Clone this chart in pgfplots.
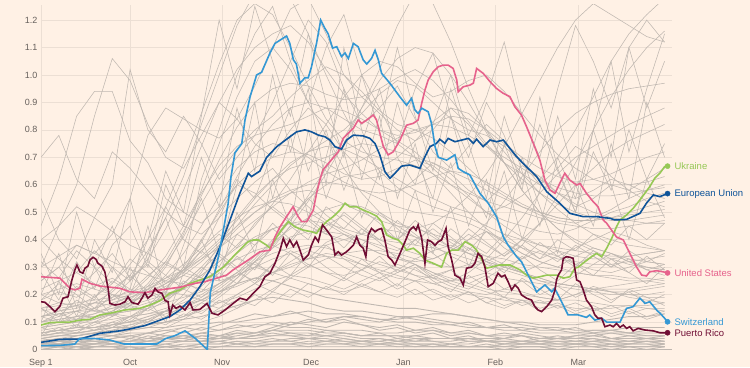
\documentclass[border=0pt]{standalone}
\usepackage{fontspec}
\setmainfont{Liberation Sans}
\usepackage{pgfplots}
\usepackage{pgfplotstable}
\pgfplotsset{compat=1.18}
\definecolor{bg}{RGB}{255,241,229}
\definecolor{gridc}{RGB}{236,223,212}
\definecolor{basec}{RGB}{190,182,175}
\definecolor{greyl}{RGB}{192,184,177}
\definecolor{tickc}{RGB}{102,96,92}
\definecolor{swiss}{RGB}{52,152,212}
\definecolor{eu}{RGB}{15,84,153}
\definecolor{usa}{RGB}{230,98,140}
\definecolor{ukr}{RGB}{150,200,85}
\definecolor{pr}{RGB}{112,14,52}

\pgfplotstableread{
name c0 c1 c2 c3 c4 c5 c6 c7 c8 c9 c10 c11 c12 c13 c14 c15 c16 c17 c18 c19 c20 c21 c22 c23 c24 c25 c26 c27 c28 c29 c30 c31 c32 c33 c34 c35
day 0 6 12 18 24 30 36 42 48 54 60 66 72 78 84 90 96 102 108 114 120 126 132 138 144 150 156 162 168 174 180 186 192 198 204 210
L1 0.01 0.01 0.01 0.01 0.02 0.02 0.02 0.02 0.03 0.03 0.03 0.04 0.04 0.05 0.05 0.05 0.05 0.06 0.05 0.05 0.05 0.04 0.04 0.04 0.04 0.03 0.03 0.03 0.03 0.03 0.03 0.03 0.03 0.03 0.03 0.03
L2 0.00 0.00 0.00 0.01 0.01 0.01 0.01 0.01 0.01 0.01 0.01 0.01 0.01 0.02 0.02 0.02 0.02 0.02 0.02 0.02 0.02 0.02 0.02 0.01 0.01 0.01 0.01 0.01 0.01 0.01 0.01 0.01 0.01 0.01 0.01 0.01
L3 0.02 0.02 0.03 0.03 0.03 0.03 0.04 0.04 0.05 0.06 0.07 0.08 0.09 0.09 0.08 0.08 0.07 0.07 0.07 0.06 0.06 0.07 0.07 0.06 0.06 0.05 0.05 0.05 0.04 0.04 0.05 0.05 0.06 0.06 0.05 0.05
L4 0.03 0.04 0.04 0.05 0.05 0.06 0.06 0.05 0.05 0.04 0.04 0.04 0.05 0.05 0.06 0.06 0.05 0.05 0.04 0.04 0.03 0.03 0.04 0.04 0.03 0.03 0.03 0.02 0.02 0.02 0.02 0.02 0.02 0.02 0.02 0.02
L5 0.01 0.01 0.02 0.02 0.02 0.02 0.02 0.03 0.03 0.03 0.04 0.05 0.06 0.07 0.09 0.10 0.11 0.12 0.12 0.11 0.10 0.10 0.09 0.09 0.08 0.08 0.07 0.07 0.06 0.06 0.06 0.07 0.07 0.06 0.06 0.06
L6 0.00 0.01 0.01 0.01 0.01 0.01 0.00 0.01 0.01 0.02 0.02 0.03 0.03 0.03 0.04 0.04 0.04 0.03 0.03 0.03 0.02 0.02 0.02 0.02 0.02 0.03 0.03 0.03 0.04 0.04 0.04 0.04 0.03 0.03 0.03 0.03
L7 0.05 0.06 0.06 0.07 0.08 0.08 0.09 0.10 0.11 0.12 0.14 0.16 0.18 0.19 0.18 0.17 0.15 0.14 0.14 0.13 0.12 0.12 0.11 0.10 0.09 0.08 0.08 0.08 0.07 0.07 0.06 0.06 0.06 0.05 0.05 0.05
L8 0.02 0.02 0.02 0.02 0.02 0.02 0.03 0.03 0.03 0.03 0.03 0.02 0.02 0.02 0.02 0.03 0.03 0.03 0.02 0.02 0.02 0.01 0.01 0.01 0.01 0.01 0.02 0.02 0.02 0.02 0.02 0.02 0.01 0.01 0.01 0.01
L9 0.01 0.02 0.02 0.02 0.03 0.03 0.03 0.04 0.04 0.05 0.05 0.06 0.06 0.07 0.07 0.07 0.06 0.06 0.05 0.05 0.05 0.05 0.04 0.04 0.04 0.04 0.04 0.03 0.03 0.03 0.03 0.03 0.04 0.04 0.04 0.04
L10 0.04 0.05 0.05 0.06 0.07 0.07 0.08 0.08 0.09 0.09 0.10 0.10 0.11 0.12 0.13 0.14 0.13 0.13 0.12 0.11 0.11 0.12 0.13 0.13 0.12 0.11 0.10 0.09 0.08 0.08 0.07 0.07 0.07 0.08 0.08 0.08
L11 0.00 0.00 0.00 0.00 0.00 0.00 0.00 0.00 0.00 0.00 0.01 0.01 0.01 0.01 0.01 0.01 0.01 0.01 0.01 0.01 0.01 0.01 0.01 0.01 0.01 0.01 0.01 0.01 0.01 0.00 0.00 0.00 0.00 0.00 0.00 0.00
L12 0.06 0.07 0.08 0.08 0.09 0.10 0.12 0.14 0.16 0.18 0.21 0.24 0.26 0.25 0.23 0.21 0.19 0.18 0.17 0.16 0.15 0.15 0.14 0.13 0.12 0.11 0.10 0.10 0.09 0.09 0.09 0.10 0.11 0.12 0.12 0.13
B1 0.01 0.02 0.01 0.02 0.03 0.02 0.03 0.04 0.03 0.05 0.04 0.06 0.05 0.07 0.06 0.05 0.07 0.06 0.05 0.06 0.04 0.05 0.06 0.04 0.05 0.03 0.04 0.05 0.03 0.04 0.03 0.04 0.03 0.02 0.03 0.02
B2 0.03 0.02 0.04 0.03 0.02 0.04 0.03 0.05 0.04 0.03 0.05 0.07 0.06 0.08 0.10 0.09 0.08 0.10 0.09 0.07 0.08 0.06 0.07 0.05 0.06 0.05 0.04 0.06 0.05 0.04 0.05 0.06 0.04 0.05 0.04 0.05
B3 0.00 0.01 0.00 0.01 0.01 0.00 0.01 0.02 0.01 0.02 0.03 0.02 0.03 0.04 0.03 0.04 0.03 0.02 0.03 0.02 0.03 0.02 0.01 0.02 0.01 0.02 0.01 0.02 0.02 0.01 0.02 0.01 0.02 0.01 0.01 0.02
B4 0.02 0.03 0.03 0.02 0.04 0.05 0.04 0.06 0.08 0.07 0.09 0.11 0.13 0.12 0.14 0.12 0.10 0.11 0.09 0.08 0.09 0.07 0.08 0.06 0.07 0.05 0.06 0.05 0.04 0.05 0.04 0.05 0.04 0.03 0.04 0.03
B5 0.01 0.01 0.02 0.01 0.01 0.02 0.02 0.01 0.02 0.02 0.02 0.03 0.02 0.03 0.03 0.02 0.03 0.04 0.03 0.03 0.04 0.03 0.03 0.02 0.03 0.03 0.02 0.02 0.03 0.02 0.02 0.02 0.01 0.02 0.02 0.01
B6 0.04 0.03 0.05 0.06 0.05 0.04 0.06 0.07 0.06 0.08 0.07 0.09 0.08 0.10 0.09 0.11 0.10 0.12 0.11 0.10 0.12 0.11 0.10 0.09 0.10 0.08 0.09 0.07 0.08 0.07 0.08 0.06 0.07 0.06 0.07 0.06
B7 0.00 0.00 0.01 0.00 0.00 0.01 0.00 0.01 0.00 0.01 0.01 0.02 0.01 0.02 0.02 0.01 0.02 0.02 0.01 0.02 0.01 0.01 0.02 0.01 0.01 0.01 0.00 0.01 0.01 0.00 0.01 0.01 0.00 0.01 0.00 0.01
B8 0.02 0.03 0.02 0.04 0.03 0.03 0.05 0.04 0.04 0.06 0.05 0.04 0.05 0.06 0.05 0.04 0.05 0.04 0.03 0.04 0.03 0.04 0.03 0.03 0.04 0.03 0.02 0.03 0.02 0.03 0.02 0.03 0.02 0.02 0.03 0.02
J1 0.15 0.12 0.18 0.14 0.20 0.16 0.22 0.18 0.25 0.21 0.28 0.24 0.32 0.27 0.35 0.30 0.38 0.33 0.29 0.34 0.28 0.31 0.26 0.29 0.24 0.27 0.22 0.25 0.20 0.23 0.19 0.22 0.18 0.21 0.17 0.20
J2 0.25 0.30 0.22 0.28 0.35 0.26 0.31 0.24 0.29 0.36 0.30 0.42 0.38 0.46 0.40 0.48 0.43 0.37 0.44 0.39 0.33 0.40 0.35 0.30 0.37 0.32 0.28 0.34 0.29 0.25 0.31 0.27 0.33 0.28 0.24 0.30
J3 0.05 0.08 0.06 0.10 0.08 0.12 0.10 0.14 0.12 0.17 0.15 0.20 0.24 0.21 0.27 0.31 0.28 0.25 0.29 0.26 0.22 0.25 0.21 0.18 0.21 0.17 0.15 0.18 0.14 0.16 0.13 0.15 0.12 0.14 0.11 0.13
J4 0.18 0.24 0.20 0.15 0.22 0.27 0.21 0.17 0.24 0.30 0.26 0.34 0.29 0.38 0.45 0.40 0.52 0.47 0.42 0.50 0.44 0.38 0.46 0.41 0.36 0.43 0.37 0.33 0.39 0.34 0.30 0.36 0.31 0.28 0.34 0.29
J5 0.10 0.13 0.11 0.15 0.12 0.16 0.14 0.18 0.22 0.19 0.24 0.28 0.25 0.31 0.36 0.33 0.39 0.42 0.38 0.44 0.40 0.45 0.41 0.37 0.42 0.38 0.34 0.38 0.33 0.36 0.31 0.34 0.30 0.33 0.29 0.31
J6 0.32 0.26 0.36 0.30 0.24 0.33 0.28 0.22 0.30 0.26 0.34 0.29 0.24 0.31 0.27 0.35 0.30 0.26 0.33 0.28 0.23 0.30 0.25 0.21 0.27 0.23 0.19 0.26 0.22 0.18 0.24 0.20 0.17 0.22 0.19 0.16
J7 0.08 0.06 0.09 0.07 0.10 0.08 0.11 0.09 0.13 0.11 0.15 0.18 0.16 0.21 0.19 0.24 0.22 0.26 0.23 0.21 0.24 0.20 0.22 0.19 0.21 0.17 0.19 0.16 0.18 0.15 0.17 0.14 0.16 0.13 0.15 0.14
J8 0.20 0.17 0.23 0.19 0.25 0.21 0.27 0.32 0.28 0.36 0.42 0.37 0.46 0.52 0.47 0.55 0.49 0.44 0.51 0.46 0.40 0.47 0.42 0.37 0.44 0.39 0.34 0.40 0.36 0.32 0.38 0.34 0.30 0.36 0.32 0.35
J9 0.12 0.10 0.14 0.11 0.13 0.10 0.15 0.12 0.16 0.13 0.18 0.15 0.20 0.17 0.22 0.19 0.23 0.20 0.24 0.21 0.19 0.22 0.18 0.20 0.17 0.19 0.16 0.18 0.15 0.17 0.14 0.16 0.13 0.15 0.12 0.14
J10 0.40 0.33 0.28 0.36 0.30 0.25 0.32 0.27 0.22 0.29 0.35 0.30 0.38 0.44 0.39 0.47 0.42 0.50 0.45 0.40 0.47 0.42 0.37 0.44 0.39 0.35 0.42 0.37 0.33 0.40 0.36 0.42 0.38 0.45 0.40 0.46
M1 0.12 0.14 0.15 0.17 0.16 0.15 0.17 0.19 0.22 0.25 0.29 0.33 0.36 0.38 0.35 0.31 0.28 0.27 0.29 0.32 0.30 0.27 0.24 0.22 0.20 0.19 0.18 0.17 0.17 0.18 0.20 0.22 0.23 0.24 0.25 0.26
M2 0.22 0.25 0.28 0.24 0.20 0.18 0.19 0.21 0.20 0.18 0.17 0.19 0.22 0.25 0.27 0.26 0.24 0.22 0.25 0.28 0.31 0.29 0.26 0.23 0.21 0.20 0.22 0.21 0.19 0.18 0.20 0.23 0.21 0.19 0.18 0.17
M3 0.08 0.09 0.10 0.11 0.13 0.14 0.16 0.19 0.23 0.27 0.32 0.37 0.41 0.44 0.46 0.45 0.42 0.40 0.38 0.35 0.33 0.31 0.28 0.26 0.24 0.22 0.21 0.20 0.19 0.18 0.18 0.17 0.16 0.16 0.15 0.15
M4 0.30 0.34 0.38 0.35 0.32 0.29 0.27 0.25 0.24 0.22 0.21 0.23 0.26 0.28 0.30 0.33 0.35 0.34 0.31 0.28 0.26 0.25 0.27 0.29 0.31 0.33 0.30 0.28 0.26 0.24 0.23 0.22 0.21 0.20 0.20 0.21
M5 0.15 0.17 0.16 0.14 0.13 0.12 0.13 0.14 0.16 0.19 0.23 0.28 0.34 0.39 0.44 0.48 0.51 0.53 0.52 0.49 0.45 0.41 0.38 0.34 0.31 0.28 0.26 0.25 0.24 0.23 0.22 0.21 0.20 0.20 0.19 0.19
M6 0.40 0.45 0.52 0.48 0.43 0.38 0.35 0.31 0.28 0.26 0.25 0.27 0.30 0.28 0.26 0.24 0.22 0.21 0.23 0.26 0.29 0.33 0.36 0.38 0.35 0.32 0.30 0.28 0.31 0.34 0.37 0.40 0.43 0.41 0.38 0.36
M7 0.10 0.11 0.12 0.12 0.13 0.14 0.15 0.17 0.19 0.21 0.24 0.27 0.30 0.33 0.35 0.37 0.38 0.40 0.42 0.44 0.43 0.41 0.39 0.37 0.35 0.34 0.33 0.31 0.30 0.29 0.28 0.27 0.27 0.26 0.26 0.25
M8 0.18 0.21 0.19 0.23 0.26 0.22 0.20 0.24 0.27 0.25 0.29 0.33 0.31 0.28 0.32 0.36 0.34 0.30 0.27 0.25 0.28 0.31 0.27 0.24 0.22 0.26 0.30 0.28 0.25 0.23 0.27 0.31 0.35 0.32 0.29 0.27
A1 0.05 0.06 0.07 0.09 0.12 0.16 0.22 0.30 0.42 0.58 0.75 0.92 1.05 1.10 1.02 0.90 0.78 0.66 0.57 0.50 0.46 0.44 0.42 0.40 0.37 0.34 0.31 0.28 0.26 0.24 0.23 0.22 0.21 0.21 0.22 0.23
A2 0.08 0.10 0.12 0.15 0.19 0.25 0.33 0.44 0.58 0.74 0.90 1.02 1.10 1.15 1.18 1.12 1.02 0.93 0.86 0.80 0.76 0.72 0.66 0.60 0.55 0.50 0.47 0.45 0.43 0.42 0.44 0.47 0.50 0.52 0.55 0.57
A3 0.03 0.04 0.05 0.06 0.08 0.11 0.15 0.21 0.29 0.39 0.51 0.63 0.74 0.82 0.88 0.90 0.88 0.84 0.80 0.78 0.75 0.70 0.64 0.57 0.50 0.44 0.39 0.35 0.32 0.30 0.28 0.27 0.26 0.25 0.25 0.24
A4 0.10 0.12 0.14 0.17 0.21 0.27 0.36 0.48 0.63 0.82 1.00 1.18 1.30 1.35 1.28 1.15 1.00 0.86 0.74 0.65 0.59 0.55 0.52 0.50 0.48 0.45 0.42 0.40 0.38 0.37 0.36 0.35 0.34 0.34 0.35 0.36
A5 0.04 0.05 0.06 0.07 0.09 0.12 0.16 0.22 0.30 0.40 0.50 0.60 0.66 0.70 0.72 0.71 0.68 0.64 0.62 0.63 0.66 0.69 0.67 0.62 0.56 0.50 0.45 0.41 0.38 0.36 0.34 0.33 0.33 0.34 0.35 0.36
A6 0.06 0.07 0.08 0.10 0.13 0.17 0.23 0.31 0.41 0.53 0.64 0.73 0.80 0.85 0.92 0.98 1.03 1.00 0.94 0.87 0.82 0.80 0.77 0.72 0.66 0.60 0.56 0.52 0.49 0.47 0.46 0.48 0.51 0.55 0.58 0.60
A7 0.02 0.03 0.03 0.04 0.05 0.07 0.10 0.14 0.20 0.28 0.38 0.48 0.56 0.62 0.66 0.68 0.70 0.73 0.75 0.74 0.72 0.70 0.68 0.65 0.62 0.58 0.55 0.52 0.50 0.48 0.47 0.47 0.48 0.50 0.52 0.54
A8 0.12 0.14 0.16 0.19 0.24 0.31 0.40 0.52 0.68 0.86 1.04 1.20 1.26 1.22 1.10 0.96 0.84 0.76 0.72 0.70 0.69 0.67 0.64 0.60 0.57 0.54 0.52 0.50 0.48 0.46 0.45 0.44 0.44 0.45 0.46 0.47
A9 0.07 0.08 0.09 0.11 0.14 0.18 0.24 0.32 0.43 0.56 0.69 0.81 0.90 0.95 0.97 0.96 0.93 0.91 0.92 0.95 0.99 1.02 0.98 0.91 0.83 0.75 0.68 0.62 0.57 0.53 0.50 0.48 0.47 0.47 0.48 0.49
A10 0.09 0.10 0.11 0.13 0.16 0.20 0.26 0.34 0.45 0.57 0.67 0.74 0.78 0.80 0.82 0.85 0.88 0.87 0.84 0.80 0.78 0.79 0.82 0.85 0.84 0.80 0.75 0.70 0.66 0.63 0.61 0.62 0.64 0.67 0.70 0.72
A11 0.04 0.05 0.05 0.06 0.07 0.09 0.11 0.14 0.18 0.23 0.29 0.35 0.40 0.44 0.46 0.47 0.46 0.44 0.42 0.40 0.39 0.38 0.37 0.35 0.33 0.31 0.29 0.27 0.25 0.24 0.23 0.22 0.22 0.22 0.23 0.24
A12 0.06 0.07 0.07 0.08 0.10 0.12 0.15 0.19 0.24 0.30 0.37 0.44 0.50 0.55 0.58 0.60 0.61 0.60 0.58 0.55 0.52 0.50 0.49 0.48 0.46 0.43 0.40 0.37 0.35 0.33 0.32 0.31 0.31 0.32 0.33 0.34
A13 0.02 0.02 0.03 0.03 0.04 0.05 0.06 0.08 0.11 0.15 0.20 0.26 0.32 0.37 0.41 0.43 0.43 0.42 0.40 0.37 0.34 0.31 0.28 0.25 0.23 0.21 0.19 0.18 0.17 0.16 0.15 0.15 0.15 0.16 0.16 0.17
A14 0.09 0.10 0.11 0.12 0.14 0.17 0.21 0.27 0.35 0.45 0.56 0.66 0.72 0.75 0.74 0.70 0.65 0.61 0.58 0.57 0.58 0.60 0.63 0.65 0.64 0.61 0.57 0.53 0.50 0.48 0.47 0.47 0.48 0.49 0.50 0.51
W1 0.05 0.06 0.06 0.07 0.08 0.09 0.10 0.12 0.14 0.17 0.21 0.26 0.32 0.39 0.47 0.56 0.66 0.77 0.88 0.98 1.06 1.10 1.08 1.00 0.90 0.79 0.68 0.58 0.50 0.44 0.39 0.36 0.33 0.31 0.30 0.29
W2 0.10 0.11 0.12 0.13 0.15 0.17 0.20 0.23 0.27 0.32 0.38 0.45 0.53 0.60 0.67 0.72 0.76 0.80 0.86 0.93 0.98 0.96 0.90 0.84 0.80 0.78 0.74 0.68 0.62 0.57 0.53 0.50 0.48 0.47 0.46 0.46
W3 0.03 0.04 0.04 0.05 0.06 0.07 0.08 0.10 0.12 0.15 0.19 0.24 0.30 0.37 0.45 0.54 0.64 0.75 0.88 1.02 1.18 1.30 1.26 1.12 0.95 0.80 0.68 0.58 0.50 0.44 0.40 0.37 0.35 0.33 0.32 0.31
W4 0.15 0.16 0.17 0.18 0.19 0.21 0.23 0.26 0.29 0.33 0.37 0.42 0.47 0.52 0.57 0.61 0.64 0.66 0.69 0.73 0.77 0.80 0.82 0.81 0.78 0.74 0.70 0.66 0.62 0.59 0.57 0.56 0.56 0.57 0.58 0.59
W5 0.06 0.07 0.08 0.08 0.09 0.10 0.11 0.13 0.15 0.18 0.22 0.27 0.33 0.40 0.48 0.55 0.60 0.63 0.64 0.66 0.70 0.76 0.83 0.88 0.86 0.80 0.72 0.64 0.57 0.51 0.46 0.42 0.40 0.38 0.37 0.36
W6 0.12 0.13 0.14 0.14 0.15 0.16 0.18 0.20 0.23 0.27 0.32 0.38 0.45 0.53 0.62 0.72 0.82 0.92 1.00 1.05 1.03 0.97 0.92 0.94 0.98 1.00 0.94 0.86 0.78 0.71 0.66 0.62 0.60 0.60 0.61 0.63
E1 0.70 0.78 0.62 0.55 0.72 0.66 0.58 0.50 0.45 0.42 0.48 0.55 0.61 0.66 0.58 0.52 0.47 0.43 0.40 0.38 0.36 0.40 0.44 0.39 0.35 0.32 0.30 0.33 0.36 0.34 0.31 0.29 0.28 0.30 0.32 0.31
E2 0.45 0.62 0.85 0.94 0.94 0.76 0.68 0.55 0.50 0.46 0.52 0.60 0.57 0.51 0.46 0.42 0.45 0.49 0.44 0.40 0.37 0.35 0.33 0.36 0.40 0.43 0.39 0.35 0.32 0.30 0.34 0.37 0.35 0.32 0.30 0.29
E3 0.30 0.45 0.60 0.85 1.06 0.98 0.82 0.70 0.66 0.78 0.90 0.84 0.75 0.70 0.80 0.88 0.82 0.72 0.65 0.60 0.57 0.62 0.68 0.64 0.58 0.54 0.60 0.67 0.63 0.57 0.52 0.55 0.60 0.58 0.54 0.52
E4 0.55 0.40 0.33 0.48 0.60 1.02 0.80 0.72 0.85 0.75 0.62 0.70 0.78 0.90 1.05 1.20 1.12 0.95 0.82 0.88 0.96 0.84 0.72 0.66 0.74 0.82 0.76 0.68 0.60 0.66 0.74 0.70 0.63 0.58 0.62 0.66
E5 0.25 0.30 0.38 0.35 0.42 0.55 0.78 0.88 0.84 0.80 0.77 0.84 0.96 1.10 1.24 1.28 1.15 1.00 0.92 0.86 0.80 0.76 0.80 0.88 0.82 0.74 0.68 0.64 0.60 0.57 0.55 0.58 0.62 0.60 0.57 0.55
S1 0.20 0.35 0.15 0.40 0.28 0.55 0.32 0.60 0.45 0.70 0.52 0.88 0.65 1.00 0.72 0.95 0.60 1.10 0.80 0.62 0.90 0.70 0.55 0.85 0.62 0.48 0.75 0.58 0.92 0.66 0.50 0.80 1.05 0.72 0.95 1.15
S2 0.10 0.25 0.12 0.30 0.18 0.22 0.45 0.20 0.38 0.55 0.35 0.60 0.90 0.55 0.78 0.48 0.70 0.95 0.62 0.85 0.55 0.75 0.50 0.68 0.45 0.62 0.40 0.70 0.52 0.35 0.60 0.45 0.75 0.55 0.90 0.70
S3 0.35 0.20 0.50 0.30 0.45 0.25 0.40 0.65 0.50 0.85 1.20 0.95 1.25 1.05 0.85 1.15 0.90 0.70 1.00 0.80 1.10 0.85 0.65 0.95 0.75 0.55 0.85 0.65 0.45 0.70 0.55 0.80 0.60 0.40 0.62 0.48
S4 0.05 0.15 0.08 0.20 0.12 0.30 0.18 0.10 0.28 0.40 0.25 0.50 0.35 0.62 0.45 0.80 0.55 0.72 0.48 0.65 0.40 0.58 0.35 0.52 0.30 0.45 0.65 0.40 0.58 0.85 0.62 0.95 0.70 1.10 0.88 1.05
S5 0.15 0.10 0.22 0.18 0.30 0.20 0.35 0.48 0.30 0.62 0.80 1.00 1.15 1.25 1.05 0.90 1.10 1.22 1.00 0.88 0.75 0.95 1.08 0.85 0.70 0.90 0.78 0.60 0.82 0.65 0.50 0.72 0.58 0.80 0.62 0.75
S6 0.28 0.18 0.32 0.22 0.38 0.45 0.30 0.52 0.40 0.35 0.48 0.62 0.55 0.72 0.88 0.65 0.80 0.58 0.75 0.95 0.70 0.60 0.82 1.00 0.78 0.92 1.12 0.85 0.70 0.95 1.18 1.05 0.88 1.10 1.20 1.12
R1 0.08 0.09 0.10 0.10 0.11 0.12 0.13 0.15 0.17 0.20 0.24 0.28 0.32 0.35 0.37 0.38 0.37 0.35 0.33 0.31 0.29 0.27 0.26 0.25 0.26 0.28 0.32 0.38 0.46 0.56 0.68 0.80 0.92 1.02 1.10 1.16
R2 0.12 0.13 0.14 0.15 0.17 0.19 0.22 0.26 0.31 0.37 0.43 0.48 0.52 0.54 0.53 0.50 0.46 0.42 0.38 0.35 0.33 0.32 0.33 0.36 0.40 0.46 0.54 0.63 0.72 0.80 0.86 0.90 0.93 0.95 0.96 0.97
R3 0.05 0.05 0.06 0.06 0.07 0.08 0.09 0.10 0.12 0.14 0.17 0.20 0.24 0.28 0.31 0.33 0.34 0.33 0.31 0.29 0.27 0.25 0.24 0.25 0.28 0.33 0.40 0.48 0.57 0.64 0.70 0.74 0.78 0.82 0.85 0.88
R4 0.20 0.22 0.24 0.22 0.20 0.19 0.21 0.24 0.28 0.33 0.39 0.45 0.50 0.54 0.57 0.58 0.56 0.53 0.50 0.47 0.45 0.44 0.46 0.50 0.56 0.64 0.74 0.86 0.98 1.10 1.20 1.26 1.22 1.18 1.14 1.12
R5 0.03 0.03 0.04 0.04 0.05 0.05 0.06 0.07 0.08 0.10 0.12 0.15 0.18 0.22 0.26 0.30 0.33 0.35 0.36 0.36 0.35 0.33 0.31 0.30 0.30 0.32 0.35 0.40 0.46 0.53 0.60 0.66 0.72 0.76 0.79 0.82
R6 0.14 0.15 0.16 0.17 0.18 0.20 0.22 0.25 0.29 0.34 0.40 0.47 0.55 0.62 0.68 0.72 0.74 0.73 0.70 0.66 0.62 0.58 0.55 0.52 0.50 0.50 0.52 0.56 0.62 0.70 0.80 0.92 1.05 1.15 1.22 1.28
}\greyraw
\pgfplotstabletranspose[colnames from=name]{\greydata}{\greyraw}

\begin{document}
\begin{tikzpicture}[x=1pt,y=1pt]
\path[use as bounding box] (0pt,0pt) rectangle (750pt,367pt);
\fill[bg] (0pt,0pt) rectangle (750pt,367pt);
\begin{axis}[
  at={(41pt,17.5pt)}, anchor=origin,
  scale only axis, width=631pt, height=344.5pt,
  xmin=0, xmax=212.5, ymin=0, ymax=1.255,
  clip mode=individual,
  axis line style={draw=none},
  major tick length=0pt,
  xmajorgrids, ymajorgrids,
  grid style={gridc, line width=0.7pt},
  xtick={0,30,61,91,122,153,181},
  xticklabels={Sep 1,Oct,Nov,Dec,Jan,Feb,Mar},
  ytick={0.1,0.2,0.3,0.4,0.5,0.6,0.7,0.8,0.9,1.0,1.1,1.2},
  yticklabels={0.1,0.2,0.3,0.4,0.5,0.6,0.7,0.8,0.9,1.0,1.1,1.2},
  extra y ticks={0}, extra y tick labels={0},
  extra y tick style={grid style={basec, line width=0.9pt}},
  ticklabel style={font=\fontsize{9}{10}\selectfont, text=tickc},
  xticklabel style={anchor=base, yshift=-15.5pt},
  yticklabel style={anchor=east},
]
\pgfplotsinvokeforeach{L1,L2,L3,L4,L5,L6,L7,L8,L9,L10,L11,L12,B1,B2,B3,B4,B5,B6,B7,B8}{
  \addplot[greyl, line width=0.9pt] table[x=day, y=#1] {\greydata};
}
\pgfplotsinvokeforeach{J1,J2,J3,J4,J5,J6,J7,J8,J9,J10,M1,M2,M3,M4,M5,M6,M7,M8,A1,A2,A3,A4,A5,A6,A7,A8,A9,A10,A11,A12,A13,A14,W1,W2,W3,W4,W5,W6,E1,E2,E3,E4,E5,S1,S2,S3,S4,S5,S6,R1,R2,R3,R4,R5,R6}{
  \addplot[greyl, line width=0.55pt] table[x=day, y=#1] {\greydata};
}

% Ukraine
\addplot[ukr, line width=1.6pt] coordinates {(0,0.089)(3,0.098)(9.8,0.10)(13.1,0.107)(16.5,0.11)(19.9,0.126)(23.2,0.132)(28.3,0.144)(33.3,0.15)(36.7,0.162)(40.1,0.178)(43.4,0.205)(46.8,0.217)(50.2,0.241)(53.5,0.253)(56.9,0.265)(58.6,0.278)(61.4,0.30)(64.7,0.338)(68.1,0.375)(69.8,0.393)(71.5,0.399)(73.2,0.399)(76,0.38)(77.1,0.369)(79.4,0.41)(81,0.435)(83.3,0.466)(85.5,0.447)(88.3,0.435)(91.1,0.429)(92.8,0.423)(93.9,0.441)(96.2,0.466)(98.4,0.484)(100.7,0.508)(102.4,0.533)(104,0.52)(106.3,0.52)(108.5,0.508)(110.8,0.498)(113,0.486)(114.7,0.466)(116.4,0.417)(118.6,0.405)(120.3,0.399)(122,0.38)(123.1,0.362)(125.4,0.369)(127.6,0.35)(129.3,0.326)(132.1,0.314)(134.9,0.30)(136.6,0.35)(138.3,0.362)(140.5,0.362)(142.8,0.393)(145,0.38)(146.7,0.362)(150,0.296)(154.5,0.308)(157.9,0.308)(161.3,0.29)(163.5,0.271)(165.8,0.26)(168,0.265)(170.3,0.271)(173.6,0.271)(175.9,0.26)(178.1,0.265)(179.8,0.296)(180.9,0.30)(183.2,0.32)(185.4,0.338)(187.1,0.35)(188.8,0.338)(190.5,0.369)(192.2,0.405)(193.8,0.447)(195,0.472)(197.2,0.49)(199.4,0.514)(201.7,0.545)(205,0.593)(206.7,0.624)(208.4,0.642)(210,0.666)(211,0.668)};
% United States
\addplot[usa, line width=1.6pt] coordinates {(0,0.265)(6.4,0.26)(8.1,0.241)(9.8,0.223)(11.4,0.217)(13.1,0.223)(13.8,0.256)(16.5,0.241)(19.9,0.231)(26.6,0.223)(30,0.21)(35,0.207)(40.1,0.217)(46.8,0.227)(51.9,0.241)(55.2,0.247)(59.2,0.26)(62.5,0.271)(64.7,0.29)(69.8,0.326)(73.7,0.356)(77.1,0.362)(78.8,0.41)(80.5,0.447)(82.7,0.484)(84.9,0.52)(86.6,0.484)(87.8,0.466)(89.5,0.466)(91.7,0.508)(92.8,0.569)(93.9,0.617)(95,0.655)(100.1,0.72)(101.8,0.77)(105.2,0.806)(106.8,0.836)(108,0.824)(109.7,0.836)(111.9,0.854)(113,0.836)(114.1,0.788)(115.3,0.739)(116.9,0.709)(118.6,0.72)(120.9,0.763)(123.1,0.817)(125.4,0.824)(127,0.836)(128.2,0.897)(129.3,0.945)(130.4,0.982)(132.1,1.012)(133.8,1.03)(135.5,1.036)(137.1,1.036)(138.8,1.024)(140,0.982)(140.5,0.939)(142.2,0.957)(144.4,0.963)(145.6,0.97)(146.7,1.024)(148.9,1.006)(151.2,0.976)(153.4,0.951)(155.7,0.933)(157.9,0.921)(159.6,0.884)(161.8,0.854)(163.5,0.812)(165.8,0.751)(168,0.69)(169.7,0.617)(171.4,0.581)(173.1,0.569)(174.7,0.605)(176.4,0.642)(178.1,0.617)(180.4,0.599)(181.5,0.605)(183.7,0.569)(186,0.538)(187.6,0.52)(189.3,0.472)(190.5,0.46)(193.8,0.41)(196.1,0.399)(198.3,0.35)(200.6,0.30)(202.3,0.271)(203.9,0.268)(205,0.283)(207.3,0.287)(209.5,0.283)(211,0.279)};
% European Union
\addplot[eu, line width=1.6pt] coordinates {(0,0.026)(6.4,0.037)(13.1,0.038)(19.9,0.059)(26.6,0.068)(30,0.075)(35,0.087)(40.1,0.107)(43.4,0.12)(46.8,0.144)(50.2,0.18)(53.5,0.229)(56.9,0.29)(60.3,0.375)(63.6,0.47)(67,0.57)(69.8,0.642)(70.9,0.63)(73.7,0.65)(76,0.70)(79.4,0.739)(81.6,0.757)(83.8,0.775)(86.1,0.793)(88.9,0.80)(91.1,0.793)(93.4,0.781)(95.6,0.775)(97.3,0.763)(99,0.739)(101.2,0.73)(102.9,0.763)(105.2,0.781)(108.5,0.778)(110.8,0.769)(112.5,0.75)(114.1,0.709)(115.8,0.648)(117.5,0.624)(119.2,0.642)(121.4,0.668)(124.2,0.672)(125.9,0.666)(127.6,0.66)(129.3,0.702)(131,0.739)(133.2,0.751)(134.3,0.766)(136,0.751)(137.1,0.769)(139.4,0.757)(141.7,0.763)(143.9,0.769)(145.6,0.751)(146.7,0.766)(148.9,0.739)(151.2,0.763)(153.4,0.757)(155.7,0.763)(157.9,0.733)(160.2,0.702)(163.5,0.666)(166.9,0.63)(170.3,0.575)(174.7,0.533)(178.1,0.496)(182.6,0.484)(187.1,0.484)(191.6,0.478)(193.3,0.472)(197.2,0.474)(201.7,0.496)(203.9,0.533)(206.2,0.563)(208.4,0.557)(211,0.568)};
% Switzerland
\addplot[swiss, line width=1.6pt] coordinates {(0,0.014)(6.4,0.015)(11.4,0.02)(13,0.04)(18,0.04)(23,0.035)(28,0.02)(35,0.02)(39,0.02)(42,0.04)(45,0.05)(48.5,0.068)(52,0.04)(56,0.0)(57,0.206)(60,0.35)(63,0.53)(64,0.63)(65.3,0.716)(67.6,0.75)(68.7,0.836)(70.4,0.92)(72.6,1.0)(74.3,1.01)(77.1,1.08)(78.8,1.115)(80.5,1.127)(82.7,1.142)(83.8,1.115)(85,1.055)(86,1.04)(87.2,0.97)(88.9,0.99)(90,0.99)(91.1,1.03)(92.8,1.116)(94.2,1.2)(95.6,1.17)(96.7,1.15)(98.2,1.098)(99.6,1.103)(101.2,1.067)(102.4,1.08)(103.5,1.06)(105.2,1.115)(106.8,1.103)(108.5,1.055)(109.7,1.04)(111.3,1.06)(112.5,1.09)(113.6,1.055)(114.7,1.006)(117.5,0.97)(120.9,0.92)(123.1,0.89)(124.8,0.915)(125.9,0.873)(127,0.86)(128.2,0.879)(130.4,0.866)(131.5,0.824)(132.7,0.739)(133.8,0.70)(136.6,0.69)(139.4,0.709)(140.5,0.66)(142.2,0.648)(144.4,0.636)(147.8,0.569)(150.6,0.533)(153.4,0.484)(155.7,0.41)(157.3,0.38)(160.2,0.338)(161.8,0.32)(164.6,0.26)(166.9,0.21)(169.7,0.235)(172,0.21)(173,0.223)(174.7,0.187)(177.5,0.126)(180.9,0.126)(183.7,0.117)(184.8,0.126)(186.5,0.107)(188.8,0.114)(190.5,0.10)(195,0.10)(197.2,0.15)(199.4,0.156)(201.7,0.187)(203.4,0.168)(205,0.174)(207.3,0.144)(209,0.126)(210,0.114)(211,0.101)};
% Puerto Rico
\addplot[pr, line width=1.6pt] coordinates {(0,0.174)(1.3,0.172)(3,0.156)(4.7,0.138)(6.4,0.158)(7.4,0.187)(9.1,0.192)(10.4,0.253)(11.4,0.29)(12.1,0.308)(13.1,0.283)(14.1,0.278)(14.8,0.296)(15.8,0.304)(16.5,0.326)(17.5,0.336)(18.5,0.329)(19.2,0.314)(20.5,0.304)(21.5,0.283)(22.6,0.223)(23.2,0.168)(24.9,0.162)(26.6,0.165)(28.3,0.174)(29.3,0.192)(30.6,0.171)(32.7,0.165)(34,0.187)(35,0.207)(36,0.187)(37.4,0.199)(38.4,0.223)(39.4,0.21)(40.7,0.205)(41.8,0.178)(42.8,0.174)(43.4,0.126)(44.4,0.162)(45.5,0.15)(46.8,0.158)(48.5,0.144)(50.2,0.171)(51.2,0.144)(53.5,0.146)(55.9,0.168)(57.6,0.132)(59.6,0.126)(62,0.144)(64.7,0.168)(67,0.187)(69.3,0.18)(71.5,0.205)(73.7,0.229)(75.4,0.265)(77.1,0.278)(78.8,0.314)(80.5,0.362)(81.6,0.405)(82.7,0.375)(83.8,0.399)(85,0.375)(86.1,0.393)(87.2,0.362)(88.3,0.326)(90,0.344)(91.1,0.38)(92.3,0.41)(93.4,0.393)(94.8,0.454)(96.2,0.435)(97.9,0.41)(99,0.344)(100.1,0.356)(101.2,0.344)(102.9,0.356)(105.2,0.38)(106.3,0.41)(107.4,0.38)(108.5,0.369)(109.4,0.338)(110.2,0.417)(111.3,0.441)(112.5,0.429)(113.6,0.437)(114.7,0.441)(115.8,0.399)(116.9,0.338)(118.1,0.326)(119.2,0.308)(120.9,0.35)(122.6,0.393)(124.2,0.435)(125.4,0.447)(126.3,0.435)(127,0.454)(128.2,0.405)(129.3,0.314)(130.2,0.399)(131.5,0.393)(132.7,0.38)(133.8,0.393)(134.9,0.399)(136.4,0.441)(137.1,0.375)(138.3,0.326)(139.4,0.271)(141.1,0.26)(142.2,0.235)(143.3,0.296)(145,0.30)(146.1,0.314)(147.2,0.35)(148.4,0.338)(149.5,0.30)(150.6,0.229)(152.3,0.241)(153.9,0.278)(155.1,0.265)(156.2,0.271)(157.3,0.247)(158.5,0.217)(159.6,0.235)(160.7,0.223)(161.8,0.199)(163.5,0.187)(165.2,0.18)(166.3,0.156)(167.4,0.144)(168.6,0.138)(170.3,0.156)(172,0.18)(173.1,0.217)(173.6,0.253)(174.2,0.271)(175.3,0.29)(175.9,0.332)(177,0.338)(178.1,0.336)(179.2,0.332)(180.4,0.253)(181.5,0.247)(182.6,0.217)(183.7,0.18)(185.4,0.156)(186.5,0.126)(187.6,0.114)(188.8,0.114)(189.9,0.083)(191.6,0.089)(192.7,0.083)(193.8,0.095)(195,0.081)(196.1,0.089)(197.2,0.077)(198.3,0.083)(199.4,0.068)(201.1,0.077)(203.4,0.071)(206.2,0.068)(208.4,0.061)(211,0.061)};

% end dots
\addplot[only marks, mark=*, mark size=2.6pt, ukr] coordinates {(211,0.668)};
\addplot[only marks, mark=*, mark size=2.6pt, eu] coordinates {(211,0.568)};
\addplot[only marks, mark=*, mark size=2.6pt, usa] coordinates {(211,0.279)};
\addplot[only marks, mark=*, mark size=2.6pt, swiss] coordinates {(211,0.101)};
\addplot[only marks, mark=*, mark size=2.6pt, pr] coordinates {(211,0.061)};

\node[anchor=base west, text=ukr, font=\fontsize{9.5}{10}\selectfont, xshift=3.5pt, yshift=-3.3pt] at (axis cs:211,0.668) {Ukraine};
\node[anchor=base west, text=eu, font=\fontsize{9.5}{10}\selectfont, xshift=3.5pt, yshift=-3.3pt] at (axis cs:211,0.568) {European Union};
\node[anchor=base west, text=usa, font=\fontsize{9.5}{10}\selectfont, xshift=3.5pt, yshift=-3.3pt] at (axis cs:211,0.279) {United States};
\node[anchor=base west, text=swiss, font=\fontsize{9.5}{10}\selectfont, xshift=3.5pt, yshift=-3.3pt] at (axis cs:211,0.101) {Switzerland};
\node[anchor=base west, text=pr, font=\fontsize{9.5}{10}\selectfont, xshift=3.5pt, yshift=-3.3pt] at (axis cs:211,0.061) {Puerto Rico};
\end{axis}
\end{tikzpicture}
\end{document}
